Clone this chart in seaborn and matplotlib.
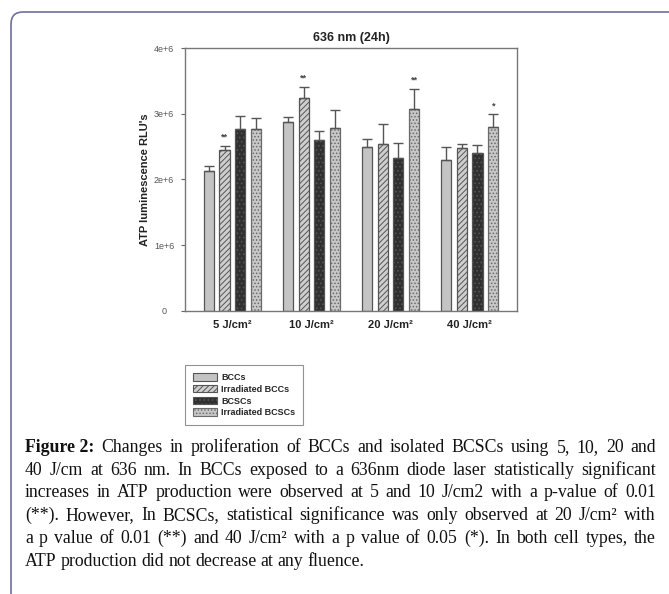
import matplotlib
matplotlib.use('Agg')
import matplotlib.pyplot as plt
from matplotlib.patches import Patch, FancyBboxPatch
from matplotlib.transforms import IdentityTransform
import pandas as pd
import seaborn as sns

# values (RLU, x1e6)
categories = ['5 J/cm²', '10 J/cm²', '20 J/cm²', '40 J/cm²']
groups = ['BCCs', 'Irradiated BCCs', 'BCSCs', 'Irradiated BCSCs']
bccs = [2.13, 2.87, 2.49, 2.29]
irr_bccs = [2.44, 3.24, 2.54, 2.47]
bcscs = [2.76, 2.60, 2.33, 2.40]
irr_bcscs = [2.76, 2.78, 3.07, 2.80]
bccs_err = [0.07, 0.08, 0.13, 0.21]
irr_bccs_err = [0.07, 0.17, 0.30, 0.065]
bcscs_err = [0.20, 0.135, 0.22, 0.125]
irr_bcscs_err = [0.17, 0.27, 0.31, 0.19]
stars = {('Irradiated BCCs', 0): '**', ('Irradiated BCCs', 1): '**',
         ('Irradiated BCSCs', 2): '**', ('Irradiated BCSCs', 3): '*'}

caption = [
    [('Figure 2:', True), ('Changes', False), ('in', False), ('proliferation', False), ('of', False),
     ('BCCs', False), ('and', False), ('isolated', False), ('BCSCs', False), ('using', False),
     ('5,', False), ('10,', False), ('20', False), ('and', False)],
    '40 J/cm at 636 nm. In BCCs exposed to a 636nm diode laser statistically significant',
    'increases in ATP production were observed at 5 and 10 J/cm2 with a p-value of 0.01',
    '(**). However, In BCSCs, statistical significance was only observed at 20 J/cm² with',
    'a p value of 0.01 (**) and 40 J/cm² with a p value of 0.05 (*). In both cell types, the',
    'ATP production did not decrease at any fluence.',
]

vals = [bccs, irr_bccs, bcscs, irr_bcscs]
errs = [bccs_err, irr_bccs_err, bcscs_err, irr_bcscs_err]
df = pd.DataFrame({
    'dose': categories * 4,
    'group': [g for g in groups for _ in categories],
    'value': [v * 1e6 for vs in vals for v in vs],
})

sns.set_style('white')
plt.rcParams['font.family'] = ['Liberation Sans', 'DejaVu Sans']
plt.rcParams['hatch.linewidth'] = 0.7

faces = {'BCCs': '#c4c4c4', 'Irradiated BCCs': '#cfcfcf', 'BCSCs': '#303030', 'Irradiated BCSCs': '#c8c8c8'}
hatches = {'BCCs': '', 'Irradiated BCCs': '//////', 'BCSCs': '....', 'Irradiated BCSCs': '.....'}
edges = {'BCCs': '#555555', 'Irradiated BCCs': '#555555', 'BCSCs': '#555555', 'Irradiated BCSCs': '#6a6a6a'}

W, H = 669, 594
fig = plt.figure(figsize=(W / 100, H / 100), dpi=100)
ax = fig.add_axes([185 / W, 1 - 310.7 / H, (517 - 185) / W, (310.7 - 48) / H])

sns.barplot(data=df, x='dose', y='value', hue='group', hue_order=groups,
            order=categories, palette=faces, width=0.8, gap=0.36,
            legend=False, ax=ax)

for g, cont, err in zip(groups, ax.containers, errs):
    xs, tops = [], []
    for bar in cont:
        bar.set_facecolor(faces[g])
        bar.set_edgecolor(edges[g])
        bar.set_hatch(hatches[g])
        bar.set_linewidth(0.9)
        xs.append(bar.get_x() + bar.get_width() / 2)
        tops.append(bar.get_height())
    ax.errorbar(xs, tops, yerr=[[0] * len(err), [e * 1e6 for e in err]],
                fmt='none', ecolor='#555555', elinewidth=1, capsize=3.5, capthick=1)
    for i, (x, t) in enumerate(zip(xs, tops)):
        s = stars.get((g, i))
        if s:
            ax.annotate(s, (x, t + err[i] * 1e6), xytext=(0, 3), textcoords='offset points',
                        ha='center', va='bottom', fontsize=6.5, fontweight='bold', color='#444444')

ax.set_xlim(-0.6, 3.6)
ax.set_ylim(0, 4e6)
ax.set_yticks([0, 1e6, 2e6, 3e6, 4e6])
ax.set_yticklabels(['0', '1e+6', '2e+6', '3e+6', '4e+6'], fontsize=6.5, color='#555555')
ax.tick_params(axis='y', left=True, length=3, width=0.8, color='#666666', pad=12)
for lab in ax.get_yticklabels():
    lab.set_ha('center')
ax.tick_params(axis='x', bottom=False, pad=3)
ax.set_xticks(range(len(categories)))
ax.set_xticklabels(categories, fontsize=8, fontweight='bold', color='#222222')
ax.set_xlabel('')
ax.set_ylabel("ATP luminescence RLU's", fontsize=8, fontweight='bold', color='#222222', labelpad=3)
ax.set_title('636 nm (24h)', fontsize=9, fontweight='bold', color='#222222', pad=5)
for sp in ax.spines.values():
    sp.set_visible(True)
    sp.set_color('#777777')
    sp.set_linewidth(1.0)

handles = [Patch(facecolor=faces[g], edgecolor=edges[g], hatch=hatches[g], linewidth=0.8) for g in groups]
leg = fig.legend(handles, groups, loc='upper left', bbox_to_anchor=(185 / W, 1 - 365 / H),
                 frameon=True, fancybox=False, edgecolor='#777777', fontsize=6.5,
                 prop={'weight': 'bold', 'size': 6.5}, handlelength=2.6, handleheight=0.9,
                 labelspacing=0.3, borderpad=0.9, handletextpad=0.5, borderaxespad=0)
leg.get_frame().set_linewidth(0.8)

# rounded panel border, open to the right and bottom
fig.patches.append(FancyBboxPatch((11, -30), 720, H - 12 + 30, transform=IdentityTransform(),
                                  boxstyle='round,pad=0,rounding_size=12',
                                  facecolor='none', edgecolor='#6e6e9c', linewidth=1.2))

# justified caption in a serif face
fig.canvas.draw()
renderer = fig.canvas.get_renderer()
x0, x1 = 25, 656
cap_font = dict(family='Liberation Serif', size=12.8, color='#111111')
for li, line in enumerate(caption):
    if isinstance(line, str):
        words = [(w, False) for w in line.split(' ')]
    else:
        words = line
    ybase = H - (452 + 22.7 * li)
    texts = []
    for w, b in words:
        t = fig.text(0, ybase / H, w, fontweight='bold' if b else 'normal', va='baseline', **cap_font)
        texts.append(t)
    widths = [t.get_window_extent(renderer).width for t in texts]
    last = li == len(caption) - 1
    space = 4.2 if last else (x1 - x0 - sum(widths)) / (len(words) - 1)
    x = x0
    for t, w in zip(texts, widths):
        t.set_x(x / W)
        x += w + space

fig.savefig('out.png', dpi=100)
